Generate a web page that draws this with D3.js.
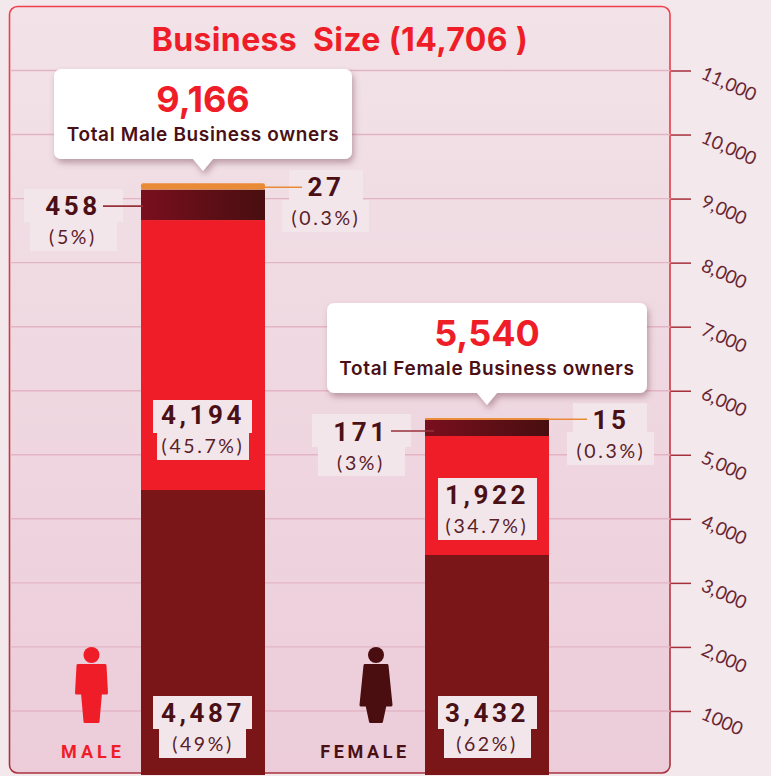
<!DOCTYPE html>
<html><head><meta charset="utf-8">
<script src="https://cdn.jsdelivr.net/npm/d3@7"></script>
<style>html,body{margin:0;padding:0;background:#f3e8ec}svg{display:block}</style>
</head><body><div id="c"></div>
<script>
const genders = ["MALE","FEMALE"];
const titleText = "Business  Size (14,706 )";
const totalLabels = ["9,166","5,540"];
const totalCaptions = ["Total Male Business owners","Total Female Business owners"];
// segment heights, bottom to top
const segNames = ["a","b","c","d"];
const maleHeights = [4450,4215,475,100];
const femaleHeights = [3435,1858,250,30];
const maleValueLabels = ["4,487","4,194","458","27"];
const femaleValueLabels = ["3,432","1,922","171","15"];
const malePctLabels = ["(49%)","(45.7%)","(5%)","(0.3%)"];
const femalePctLabels = ["(62%)","(34.7%)","(3%)","(0.3%)"];
const tickValues = [1000,2000,3000,4000,5000,6000,7000,8000,9000,10000,11000];
const tickLabels = ["1000","2,000","3,000","4,000","5,000","6,000","7,000","8,000","9,000","10,000","11,000"];

const W=771,H=776, DARK="#7a1518", RED="#ef1d27", ORANGE="#e98b36", INK="#4a1015", BOX="#f3e6eb";
const svg=d3.select("#c").append("svg").attr("width",W).attr("height",H);
const defs=svg.append("defs");
const pg=defs.append("linearGradient").attr("id","pg").attr("x1",0).attr("x2",0).attr("y1",0).attr("y2",1);
pg.append("stop").attr("offset",0).attr("stop-color","#f2e3e8");
pg.append("stop").attr("offset",1).attr("stop-color","#ecccd9");
const bd=defs.append("linearGradient").attr("id","bd").attr("x1",0).attr("x2",0).attr("y1",0).attr("y2",1);
bd.append("stop").attr("offset",0).attr("stop-color","#ef3f4c");
bd.append("stop").attr("offset",1).attr("stop-color","#a8323e");
const sg=defs.append("linearGradient").attr("id","sg");
sg.append("stop").attr("offset",0).attr("stop-color","#7a0f1e");
sg.append("stop").attr("offset",1).attr("stop-color","#480e10");
const sh=defs.append("filter").attr("id","sh").attr("x","-10%").attr("y","-20%").attr("width","120%").attr("height","150%");
sh.append("feDropShadow").attr("dx",2).attr("dy",4).attr("stdDeviation",3).attr("flood-color","#7a4a58").attr("flood-opacity",.45);

const y=d3.scaleLinear().domain([0,11000]).range([775,70.5]);
const x=d3.scaleBand().domain(genders).range([141,549]).paddingInner(160/284).paddingOuter(0);
const bw=x.bandwidth();
const PANEL={l:9.5,r:670,t:6.5,b:773};

svg.append("rect").attr("x",PANEL.l).attr("y",PANEL.t).attr("width",PANEL.r-PANEL.l).attr("height",PANEL.b-PANEL.t)
  .attr("rx",8).attr("fill","url(#pg)").attr("stroke","url(#bd)").attr("stroke-width",1.6);

// gridlines
svg.append("g").selectAll("line").data(tickValues).join("line")
  .attr("x1",PANEL.l+1).attr("x2",PANEL.r).attr("y1",d=>y(d)).attr("y2",d=>y(d))
  .attr("stroke","#e3b4c4").attr("stroke-width",1.4);

// axis
const axis=d3.axisRight(y).tickValues(tickValues).tickSize(20).tickPadding(0)
  .tickFormat((d,i)=>tickLabels[i]);
const ag=svg.append("g").attr("transform",`translate(${PANEL.r+1},0)`).call(axis);
ag.select(".domain").remove();
ag.selectAll(".tick line").attr("stroke","#a5303c").attr("stroke-width",1.5);
ag.selectAll(".tick text").attr("x",0).attr("y",0).attr("dy",0)
  .style("text-anchor","start")
  .attr("transform","translate(29,7) rotate(24)")
  .attr("fill","#6a2530").attr("font-family","Lato").attr("font-size",18.5).attr("font-weight",400);

// bars
[maleHeights,femaleHeights].forEach((hs,gi)=>{
  const g=genders[gi];
  const stack=d3.stack().keys(segNames)([Object.fromEntries(segNames.map((k,i)=>[k,hs[i]]))]);
  svg.append("g").selectAll("rect").data(stack).join("rect")
    .attr("x",x(g)).attr("width",bw)
    .attr("y",d=>y(d[0][1])).attr("height",d=>Math.min(775,y(d[0][0]))-y(d[0][1]))
    .attr("rx",(d,i)=>i===3&&gi===0?2:0)
    .attr("fill",(d,i)=>[DARK,RED,"url(#sg)",ORANGE][i]);
});

function seriesTop(hs,i){return y(d3.sum(hs.slice(0,i+1)));}

function label(v,p,cx,base,box1,box2){
  const rects=[box1]; if(box2) rects.push(box2);
  rects.forEach(b=>svg.append("rect").attr("x",b[0]).attr("y",b[1]).attr("width",b[2]-b[0]).attr("height",b[3]-b[1]).attr("fill",BOX));
  svg.append("text").attr("x",cx).attr("y",base).attr("text-anchor","middle").attr("fill",INK)
    .attr("font-family","Roboto").attr("font-weight",700).attr("font-size",26).attr("letter-spacing",3.6).text(v);
  svg.append("text").attr("x",cx).attr("y",base+28.5).attr("text-anchor","middle").attr("fill","#5a2028")
    .attr("font-family","Lato").attr("font-weight",400).attr("font-size",19.5).attr("letter-spacing",2.6).text(p);
}
function leader(x1,x2,yy,c){svg.append("line").attr("x1",x1).attr("x2",x2).attr("y1",yy).attr("y2",yy).attr("stroke",c).attr("stroke-width",1.6);}

const mx=x("MALE"), fx=x("FEMALE"), mc=mx+bw/2, fc=fx+bw/2;

// male labels
label(maleValueLabels[2],malePctLabels[2],73,215,[24,189,123,222],[30,222,117,251]);
label(maleValueLabels[3],malePctLabels[3],326,196,[289,170,363,200],[282,200,369,232]);
label(maleValueLabels[1],malePctLabels[1],mc,424,[mc-50,400,mc+49,433],[mc-46,433,mc+46,460]);
label(maleValueLabels[0],malePctLabels[0],mc,722,[mc-50,696,mc+49,729],[mc-44,729,mc+43,758]);
leader(103,mx+2,seriesTop(maleHeights,2)+16.5,"#983038");
leader(mx+bw-2,302,seriesTop(maleHeights,3)+4,ORANGE);
// female labels
label(femaleValueLabels[2],femalePctLabels[2],361,441,[312,414,411,447],[318,447,405,476]);
label(femaleValueLabels[3],femalePctLabels[3],611,429,[573,403,647,432],[567,432,654,465]);
label(femaleValueLabels[1],femalePctLabels[1],fc,504,[fc-49,478,fc+50,540]);
label(femaleValueLabels[0],femalePctLabels[0],fc,722,[fc-49,696,fc+50,729],[fc-43,729,fc+44,758]);
leader(391,fx+9,seriesTop(femaleHeights,2)+11,"#983038");
leader(fx,587,seriesTop(femaleHeights,3)+1.2,ORANGE);

// title
svg.append("text").attr("x",340).attr("y",51).attr("text-anchor","middle").attr("fill",RED)
  .attr("font-family","Inter").attr("font-weight",700).attr("font-size",32).attr("letter-spacing",0.35).style("white-space","pre").text(titleText);

// callouts
function callout(l,r,t,b,tip,tipY,big,cap,cx){
  const p=d3.path(),rr=7;
  p.moveTo(l+rr,t);p.lineTo(r-rr,t);p.arcTo(r,t,r,t+rr,rr);p.lineTo(r,b-rr);p.arcTo(r,b,r-rr,b,rr);
  p.lineTo(tip+10,b);p.lineTo(tip,tipY);p.lineTo(tip-10,b);p.lineTo(l+rr,b);p.arcTo(l,b,l,b-rr,rr);p.lineTo(l,t+rr);p.arcTo(l,t,l+rr,t,rr);p.closePath();
  svg.append("path").attr("d",p.toString()).attr("fill","#fff").attr("filter","url(#sh)");
  svg.append("text").attr("x",cx).attr("y",t+43).attr("text-anchor","middle").attr("fill",RED)
    .attr("font-family","Inter").attr("font-weight",700).attr("font-size",36).text(big);
  svg.append("text").attr("x",cx).attr("y",t+72).attr("text-anchor","middle").attr("fill",INK)
    .attr("font-family","Inter").attr("font-weight",600).attr("font-size",19).attr("letter-spacing",0.65).text(cap);
}
callout(54,352,69,159,mc,171,totalLabels[0],totalCaptions[0],mc);
callout(327,647,303,393,fc,405,totalLabels[1],totalCaptions[1],fc);

// person icons
function person(cx,topW,botW,hipY,legW,footW,color){
  const g=svg.append("g").attr("fill",color);
  g.append("circle").attr("cx",cx).attr("cy",655).attr("r",8);
  const p=d3.path();
  p.moveTo(cx-topW/2,665.5);p.lineTo(cx+topW/2,665.5);p.lineTo(cx+botW/2,hipY);
  p.lineTo(cx+legW/2,hipY);p.lineTo(cx+footW/2,721.5);p.lineTo(cx-footW/2,721.5);p.lineTo(cx-legW/2,hipY);p.lineTo(cx-botW/2,hipY);p.closePath();
  g.append("path").attr("d",p.toString()).attr("stroke",color).attr("stroke-width",3).attr("stroke-linejoin","round");
}
person(91.5,27,30,693,18,13,RED);
person(376,22,30,705,18,11,"#4a0e10");

svg.append("text").attr("x",93).attr("y",758).attr("text-anchor","middle").attr("fill",RED)
  .attr("font-family","Roboto").attr("font-weight",700).attr("font-size",18).attr("letter-spacing",4).text("MALE");
svg.append("text").attr("x",365).attr("y",758).attr("text-anchor","middle").attr("fill",INK)
  .attr("font-family","Roboto").attr("font-weight",700).attr("font-size",18).attr("letter-spacing",3.6).text("FEMALE");
</script></body></html>
